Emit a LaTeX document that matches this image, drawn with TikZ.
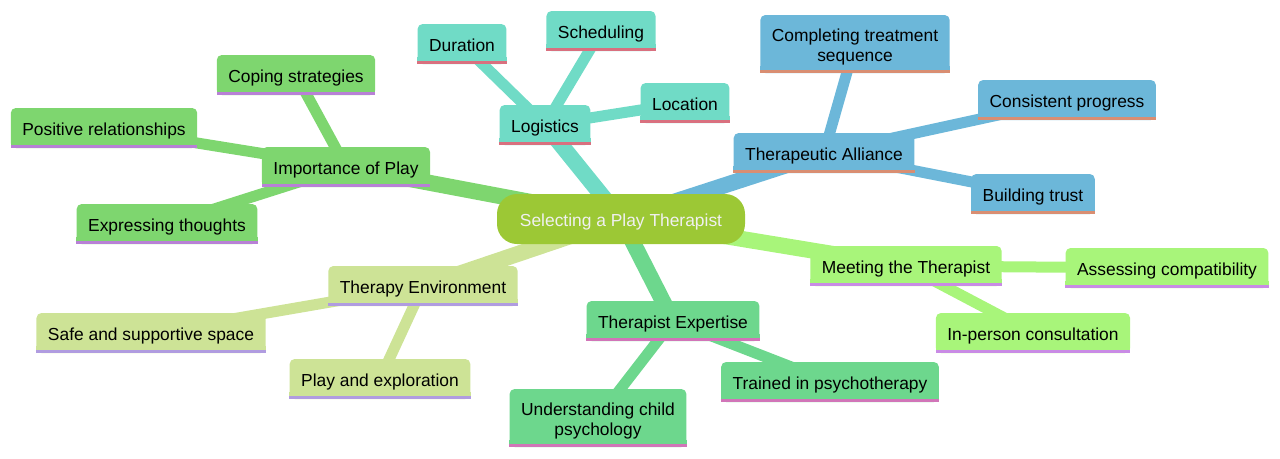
\documentclass[tikz,border=0pt]{standalone}
\usepackage{fontspec}
\setmainfont{Liberation Sans}
\usepackage{tikz}
\usetikzlibrary{backgrounds}
\definecolor{cRoot}  {HTML}{9CC835}
\definecolor{cTeal}  {HTML}{70DBC6}
\definecolor{cTealU} {HTML}{D9707F}
\definecolor{cGreen} {HTML}{7ED66F}
\definecolor{cGreenU}{HTML}{B880D6}
\definecolor{cBlue}  {HTML}{6CB7D9}
\definecolor{cBlueU} {HTML}{D98E72}
\definecolor{cOlive} {HTML}{CDE396}
\definecolor{cOliveU}{HTML}{B09CE0}
\definecolor{cMint}  {HTML}{6DD78D}
\definecolor{cMintU} {HTML}{D175B8}
\definecolor{cLime}  {HTML}{A8F57A}
\definecolor{cLimeU} {HTML}{C98BE5}

\begin{document}
\begin{tikzpicture}[
  x=1pt, y=-1pt,
  every node/.style={font=\fontsize{17.4}{20}\selectfont},
  topic/.style={
    fill=#1, rounded corners=5pt, text=black, align=center,
    minimum height=40pt, inner xsep=11.5pt, inner ysep=10pt,
    text height=14pt, text depth=0pt,
  },
  twoline/.style={text height=34pt, text depth=0pt, inner ysep=12pt},
  root/.style={fill=cRoot, rounded corners=20pt, text=white!94!black,
    minimum height=50pt, minimum width=248pt,
    text height=14pt, text depth=0pt},
  branch/.style={line width=16pt, color=#1},
  twig/.style={line width=11pt, color=#1},
]
\useasboundingbox (0,0) rectangle (1280,458);

%% ── Centre ───────────────────────────────────────────────────────────
\node[root] (play) at (621,219) {Selecting a Play Therapist};

%% ── Logistics ────────────────────────────────────────────────────────
\node[topic=cTeal] (logist) at (545,125) {Logistics};
\node[topic=cTeal] (durat)  at (462,44)  {Duration};
\node[topic=cTeal] (sched)  at (601,31)  {Scheduling};
\node[topic=cTeal] (locat)  at (685,103) {Location};

%% ── Importance of Play ───────────────────────────────────────────────
\node[topic=cGreen] (import) at (346,167) {Importance of Play};
\node[topic=cGreen] (coping) at (296,75)  {Coping strategies};
\node[topic=cGreen] (posrel) at (104,128) {Positive relationships};
\node[topic=cGreen] (expres) at (167,224) {Expressing thoughts};

%% ── Therapeutic Alliance ─────────────────────────────────────────────
\node[topic=cBlue] (allian) at (824,153) {Therapeutic Alliance};
\node[topic=cBlue, twoline] (complt) at (855,44) {Completing treatment\\sequence};
\node[topic=cBlue] (consis) at (1067,100) {Consistent progress};
\node[topic=cBlue] (trust)  at (1033,194) {Building trust};

%% ── Therapy Environment ──────────────────────────────────────────────
\node[topic=cOlive] (envir)  at (423,286) {Therapy Environment};
\node[topic=cOlive] (safe)   at (151,333) {Safe and supportive space};
\node[topic=cOlive] (explor) at (380,379) {Play and exploration};

%% ── Therapist Expertise ──────────────────────────────────────────────
\node[topic=cMint] (expert) at (673,321) {Therapist Expertise};
\node[topic=cMint, twoline] (child) at (598,418) {Understanding child\\psychology};
\node[topic=cMint] (psycho) at (830,382) {Trained in psychotherapy};

%% ── Meeting the Therapist ────────────────────────────────────────────
\node[topic=cLime] (meet)   at (906,266)  {Meeting the Therapist};
\node[topic=cLime] (compat) at (1167,268) {Assessing compatibility};
\node[topic=cLime] (person) at (1033,333) {In-person consultation};

%% ── Square bottoms + coloured underlines ─────────────────────────────
\foreach \n/\c/\u in {logist/cTeal/cTealU, durat/cTeal/cTealU, sched/cTeal/cTealU,
    locat/cTeal/cTealU, import/cGreen/cGreenU, coping/cGreen/cGreenU,
    posrel/cGreen/cGreenU, expres/cGreen/cGreenU, allian/cBlue/cBlueU,
    complt/cBlue/cBlueU, consis/cBlue/cBlueU, trust/cBlue/cBlueU,
    envir/cOlive/cOliveU, safe/cOlive/cOliveU, explor/cOlive/cOliveU,
    expert/cMint/cMintU, child/cMint/cMintU, psycho/cMint/cMintU,
    meet/cLime/cLimeU, compat/cLime/cLimeU, person/cLime/cLimeU} {
  \fill[\c] (\n.south west) rectangle ([yshift=7pt]\n.south east);
  \fill[\u] (\n.south west) rectangle ([yshift=3pt]\n.south east);
}

%% ── Edges (behind the boxes) ─────────────────────────────────────────
\begin{scope}[on background layer]
  \draw[branch=cTeal]  (play.center) -- (logist.center);
  \draw[twig=cTeal]    (logist.center) -- (durat.center);
  \draw[twig=cTeal]    (logist.center) -- (sched.center);
  \draw[twig=cTeal]    (logist.center) -- (locat.center);

  \draw[branch=cGreen] (play.center) -- (import.center);
  \draw[twig=cGreen]   (import.center) -- (coping.center);
  \draw[twig=cGreen]   (import.center) -- (posrel.center);
  \draw[twig=cGreen]   (import.center) -- (expres.center);

  \draw[branch=cBlue]  (play.center) -- (allian.center);
  \draw[twig=cBlue]    (allian.center) -- (complt.center);
  \draw[twig=cBlue]    (allian.center) -- (consis.center);
  \draw[twig=cBlue]    (allian.center) -- (trust.center);

  \draw[branch=cOlive] (play.center) -- (envir.center);
  \draw[twig=cOlive]   (envir.center) -- (safe.center);
  \draw[twig=cOlive]   (envir.center) -- (explor.center);

  \draw[branch=cMint]  (play.center) -- (expert.center);
  \draw[twig=cMint]    (expert.center) -- (child.center);
  \draw[twig=cMint]    (expert.center) -- (psycho.center);

  \draw[branch=cLime]  (play.center) -- (meet.center);
  \draw[twig=cLime]    (meet.center) -- (compat.center);
  \draw[twig=cLime]    (meet.center) -- (person.center);
\end{scope}

\end{tikzpicture}
\end{document}
